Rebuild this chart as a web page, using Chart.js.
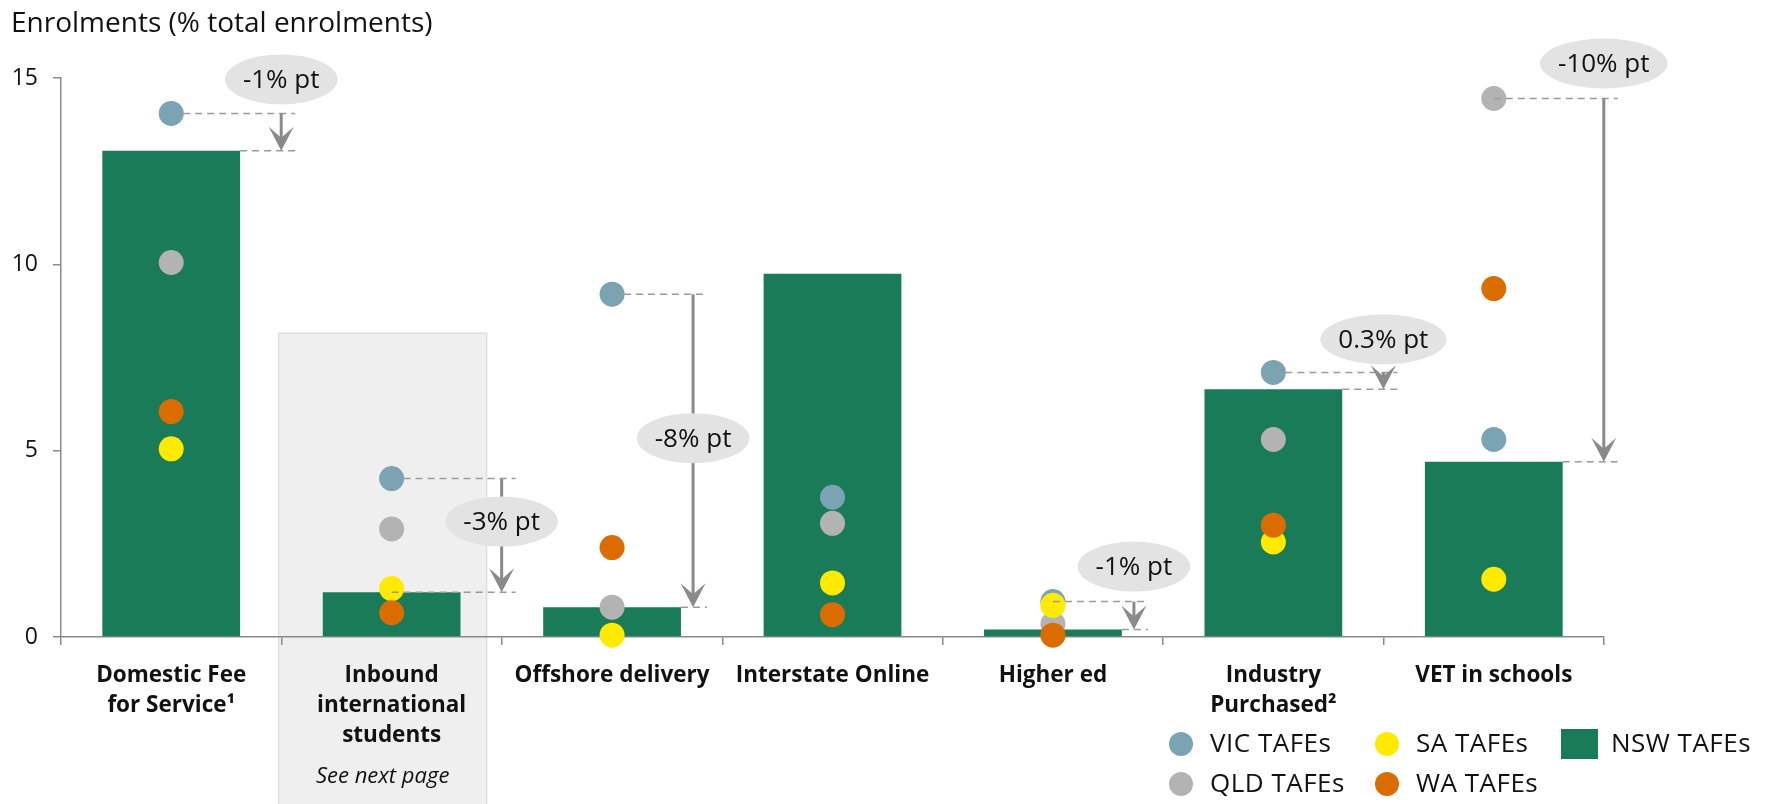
<!DOCTYPE html>
<html>
<head>
<meta charset="utf-8">
<script src="https://cdn.jsdelivr.net/npm/chart.js@4/dist/chart.umd.min.js"></script>
<style>
  body { margin: 0; background: #fff; }
  #wrap { width: 1769px; height: 804px; position: relative; }
</style>
</head>
<body>
<div id="wrap"><canvas id="chart"></canvas></div>
<script>
// categories along the x axis
const categories = [
  ["Domestic Fee", "for Service\u00b9"],
  ["Inbound", "international", "students"],
  ["Offshore delivery"],
  ["Interstate Online"],
  ["Higher ed"],
  ["Industry", "Purchased\u00b2"],
  ["VET in schools"]
];

// enrolments, % of total
const nswTafes = [13.05, 1.2, 0.8, 9.75, 0.2, 6.65, 4.7];
const vicTafes = [14.05, 4.25, 9.2, 3.75, 0.95, 7.1, 5.3];
const qldTafes = [10.05, 2.9, 0.8, 3.05, 0.35, 5.3, 14.45];
const saTafes  = [5.05, 1.3, 0.05, 1.45, 0.85, 2.55, 1.55];
const waTafes  = [6.05, 0.65, 2.4, 0.6, 0.05, 3.0, 9.35];

const yTicks = [0, 5, 10, 15];

// gap callouts: NSW vs the leading state
const gapLabels = ["-1% pt", "-3% pt", "-8% pt", null, "-1% pt", "0.3% pt", "-10% pt"];
const gapFrom   = ["VIC", "VIC", "VIC", null, "VIC", "VIC", "QLD"];

const seriesByName = { VIC: vicTafes, QLD: qldTafes, SA: saTafes, WA: waTafes };

const colors = {
  NSW: "#1a7b59",
  VIC: "#7aa3b4",
  QLD: "#b3b3b3",
  SA: "#ffea00",
  WA: "#db6d00"
};

// layout of callouts (pixels relative to the category centre / top line)
const arrowDx = [110, 110, 81, null, 81, 110, 110];
const labelDy = [-34, 43, 144, null, -35, -33, -35];

const FONT = "'Open Sans', 'Noto Sans', sans-serif";

function dotSet(label, data, color, order) {
  return {
    type: "line",
    label: label,
    data: data,
    showLine: false,
    pointRadius: 12.5,
    pointHoverRadius: 12.5,
    pointBorderWidth: 0,
    pointBackgroundColor: color,
    backgroundColor: color,
    borderColor: color,
    clip: false,
    order: order
  };
}

const calloutPlugin = {
  id: "callouts",
  beforeDraw(chart) {
    // grey panel behind "Inbound international students"
    const ctx = chart.ctx;
    const x = chart.scales.x;
    const y = chart.scales.y;
    const cx = x.getPixelForValue(1);
    const top = y.getPixelForValue(8.15);
    ctx.save();
    ctx.fillStyle = "#efefef";
    ctx.strokeStyle = "#dedede";
    ctx.lineWidth = 1.5;
    ctx.fillRect(cx - 113, top, 208, 900);
    ctx.strokeRect(cx - 113, top, 208, 900);
    ctx.restore();
  },
  afterDatasetsDraw(chart) {
    const ctx = chart.ctx;
    const x = chart.scales.x;
    const y = chart.scales.y;
    const bars = chart.getDatasetMeta(0).data;

    ctx.save();
    gapLabels.forEach((label, i) => {
      if (!label) return;
      const cx = x.getPixelForValue(i);
      const ax = cx + arrowDx[i];
      const yTop = y.getPixelForValue(seriesByName[gapFrom[i]][i]);
      const yBot = y.getPixelForValue(nswTafes[i]);
      const barRight = bars[i].x + bars[i].width / 2;
      const lowStart = i === 1 ? cx : barRight;

      // dashed guide lines
      ctx.strokeStyle = "#9a9a9a";
      ctx.lineWidth = 1.5;
      ctx.setLineDash([7, 5]);
      ctx.beginPath();
      ctx.moveTo(cx, yTop);
      ctx.lineTo(ax + 14, yTop);
      ctx.moveTo(lowStart, yBot);
      ctx.lineTo(ax + 14, yBot);
      ctx.stroke();
      ctx.setLineDash([]);

      // arrow
      ctx.strokeStyle = "#8a8a8a";
      ctx.fillStyle = "#8a8a8a";
      ctx.lineWidth = 3;
      ctx.beginPath();
      ctx.moveTo(ax, yTop);
      ctx.lineTo(ax, yBot - 12);
      ctx.stroke();
      ctx.beginPath();
      ctx.moveTo(ax, yBot);
      ctx.lineTo(ax - 12.5, yBot - 24);
      ctx.lineTo(ax, yBot - 13);
      ctx.lineTo(ax + 12.5, yBot - 24);
      ctx.closePath();
      ctx.fill();

      // bubble
      ctx.font = "26px " + FONT;
      const w = ctx.measureText(label).width + 36;
      const by = yTop + labelDy[i];
      ctx.fillStyle = "#e3e3e3";
      ctx.beginPath();
      ctx.ellipse(ax, by, w / 2, 25, 0, 0, Math.PI * 2);
      ctx.fill();
      ctx.fillStyle = "#111";
      ctx.textAlign = "center";
      ctx.textBaseline = "middle";
      ctx.fillText(label, ax, by + 1);
    });
    ctx.restore();
  },
  afterDraw(chart) {
    const ctx = chart.ctx;
    const x = chart.scales.x;
    ctx.save();

    // title
    ctx.fillStyle = "#111";
    ctx.font = "28px " + FONT;
    ctx.textAlign = "left";
    ctx.textBaseline = "alphabetic";
    ctx.fillText("Enrolments (% total enrolments)", 11, 32);

    // note under inbound label
    ctx.font = "italic 22px " + FONT;
    ctx.textAlign = "center";
    ctx.fillText("See next page", x.getPixelForValue(1) - 9, 783);

    // legend
    ctx.font = "26px " + FONT;
    ctx.letterSpacing = "0.5px";
    ctx.textAlign = "left";
    ctx.textBaseline = "middle";
    const items = [
      ["VIC TAFEs", colors.VIC, 1181, 744],
      ["QLD TAFEs", colors.QLD, 1181, 784],
      ["SA TAFEs", colors.SA, 1387, 744],
      ["WA TAFEs", colors.WA, 1387, 784]
    ];
    items.forEach(([t, c, lx, ly]) => {
      ctx.fillStyle = c;
      ctx.beginPath();
      ctx.arc(lx, ly, 12, 0, Math.PI * 2);
      ctx.fill();
      ctx.fillStyle = "#111";
      ctx.fillText(t, lx + 29, ly + 1);
    });
    ctx.fillStyle = colors.NSW;
    ctx.fillRect(1561, 729, 37, 30);
    ctx.fillStyle = "#111";
    ctx.fillText("NSW TAFEs", 1611, 745);

    ctx.restore();
  }
};

const chart = new Chart(document.getElementById("chart"), {
  type: "bar",
  data: {
    labels: categories,
    datasets: [
      {
        label: "NSW TAFEs",
        data: nswTafes,
        backgroundColor: colors.NSW,
        barPercentage: 0.625,
        categoryPercentage: 1,
        order: 10
      },
      dotSet("VIC TAFEs", vicTafes, colors.VIC, 4),
      dotSet("QLD TAFEs", qldTafes, colors.QLD, 3),
      dotSet("SA TAFEs", saTafes, colors.SA, 2),
      dotSet("WA TAFEs", waTafes, colors.WA, 1)
    ]
  },
  options: {
    responsive: true,
    maintainAspectRatio: false,
    animation: false,
    events: [],
    layout: { padding: { top: 78, right: 165, left: 0, bottom: 0 } },
    plugins: {
      legend: { display: false },
      tooltip: { enabled: false },
      title: { display: false }
    },
    scales: {
      x: {
        offset: true,
        grid: { offset: true, drawOnChartArea: false, tickLength: 8, color: "#8a8a8a", lineWidth: 1.5 },
        border: { color: "#8a8a8a", width: 1.5 },
        ticks: {
          autoSkip: false,
          maxRotation: 0,
          padding: 16,
          color: "#111",
          font: { family: FONT, size: 22.5, weight: "bold", lineHeight: 1.33 }
        },
        afterFit(scale) { scale.height = 167; }
      },
      y: {
        min: 0,
        max: 15,
        afterBuildTicks(scale) { scale.ticks = yTicks.map(v => ({ value: v })); },
        grid: { drawOnChartArea: false, tickLength: 8, color: "#8a8a8a", lineWidth: 1.5 },
        border: { color: "#8a8a8a", width: 1.5 },
        ticks: {
          padding: 15,
          color: "#111",
          font: { family: FONT, size: 23 }
        },
        afterFit(scale) { scale.width = 61; }
      }
    }
  },
  plugins: [calloutPlugin]
});
</script>
</body>
</html>
